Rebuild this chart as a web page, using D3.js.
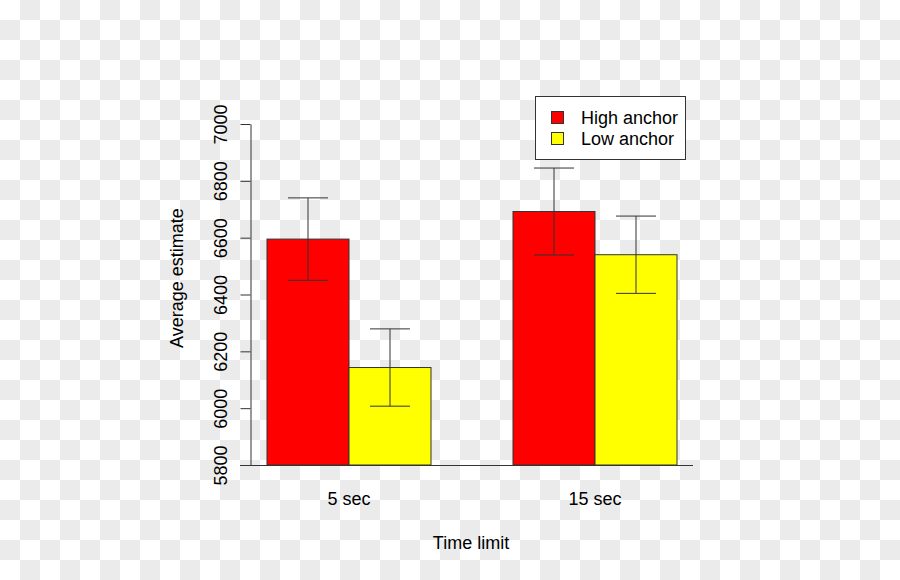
<!DOCTYPE html>
<html><head><meta charset="utf-8">
<script src="https://cdn.jsdelivr.net/npm/d3@7"></script>
<style>body{margin:0;}svg{display:block;font-family:"Liberation Sans",Arial,sans-serif;}</style>
</head><body>
<svg id="c" width="900" height="580"></svg>
<script>
const groups = ["5 sec", "15 sec"];
const seriesNames = ["High anchor", "Low anchor"];
const seriesColors = ["#ff0000", "#ffff00"];
const highMeans = [6595, 6692];
const lowMeans = [6143, 6540];
const highErr = [145, 153];
const lowErr = [136, 136];
const yTicks = [5800, 6000, 6200, 6400, 6600, 6800, 7000];

const svg = d3.select("#c");
// checkerboard background
const pat = svg.append("defs").append("pattern").attr("id","chk").attr("width",40).attr("height",40).attr("patternUnits","userSpaceOnUse");
pat.append("rect").attr("width",40).attr("height",40).attr("fill","#ffffff");
pat.append("rect").attr("x",20).attr("y",0).attr("width",20).attr("height",20).attr("fill","#ebebeb");
pat.append("rect").attr("x",0).attr("y",20).attr("width",20).attr("height",20).attr("fill","#ebebeb");
svg.append("rect").attr("width",900).attr("height",580).attr("fill","url(#chk)");

const y = d3.scaleLinear().domain([5800, 7000]).range([465, 124]);
const x0 = d3.scaleBand().domain(groups).range([226, 718]).paddingInner(1/3).paddingOuter(1/6);
const x1 = d3.scaleBand().domain(seriesNames).range([0, x0.bandwidth()]);

const data = groups.map((g,i)=>({g, vals:[{s:seriesNames[0], v:highMeans[i], e:highErr[i], c:seriesColors[0]},{s:seriesNames[1], v:lowMeans[i], e:lowErr[i], c:seriesColors[1]}]}));

const gs = svg.append("g").selectAll("g").data(data).join("g").attr("transform", d=>`translate(${x0(d.g)},0)`);
gs.selectAll("rect").data(d=>d.vals).join("rect")
  .attr("x", d=>x1(d.s)).attr("width", x1.bandwidth())
  .attr("y", d=>y(d.v)).attr("height", d=>y(5800)-y(d.v))
  .attr("fill", d=>d.c).attr("stroke","#333").attr("stroke-width",1);
// error bars
const eb = gs.selectAll("g.eb").data(d=>d.vals).join("g").attr("class","eb")
  .attr("transform", d=>`translate(${x1(d.s)+x1.bandwidth()/2},0)`);
eb.append("line").attr("x1",0).attr("x2",0).attr("y1",d=>y(d.v+d.e)).attr("y2",d=>y(d.v-d.e)).attr("stroke","#333");
eb.append("line").attr("x1",-20).attr("x2",20).attr("y1",d=>y(d.v+d.e)).attr("y2",d=>y(d.v+d.e)).attr("stroke","#333");
eb.append("line").attr("x1",-20).attr("x2",20).attr("y1",d=>y(d.v-d.e)).attr("y2",d=>y(d.v-d.e)).attr("stroke","#333");

// baseline
svg.append("line").attr("x1",240).attr("x2",693).attr("y1",465.5).attr("y2",465.5).attr("stroke","#333");

// y axis
const ya = svg.append("g").attr("transform","translate(250.5,0)")
  .call(d3.axisLeft(y).tickValues(yTicks).tickSize(10).tickSizeOuter(0).tickFormat(d3.format("d")));
ya.select(".domain").attr("stroke","#333");
ya.selectAll(".tick line").attr("stroke","#333");
ya.selectAll(".tick text").attr("transform","rotate(-90)").attr("x",0).attr("y",-30)
  .attr("text-anchor","middle").attr("dy","0.35em").attr("font-size",18).attr("fill","#000")
  .style("font-family","'Liberation Sans',Arial,sans-serif");

// group labels
svg.append("g").selectAll("text").data(groups).join("text")
  .attr("x", g=>x0(g)+x0.bandwidth()/2).attr("y",505).attr("text-anchor","middle")
  .attr("font-size",18).text(g=>g);

svg.append("text").attr("x",471).attr("y",549).attr("text-anchor","middle").attr("font-size",18).text("Time limit");
svg.append("text").attr("transform","translate(183,278) rotate(-90)").attr("text-anchor","middle").attr("font-size",18).text("Average estimate");

// legend
const lg = svg.append("g");
lg.append("rect").attr("x",535.5).attr("y",96.5).attr("width",150).attr("height",63).attr("fill","#fff").attr("stroke","#333");
const li = lg.selectAll("g").data(seriesNames).join("g").attr("transform",(d,i)=>`translate(0,${118+i*21})`);
li.append("rect").attr("x",551.5).attr("y",-6.5).attr("width",12).attr("height",12).attr("fill",(d,i)=>seriesColors[i]).attr("stroke","#333");
li.append("text").attr("x",581).attr("y",0).attr("dy","0.35em").attr("font-size",18).text(d=>d);
</script>
</body></html>
